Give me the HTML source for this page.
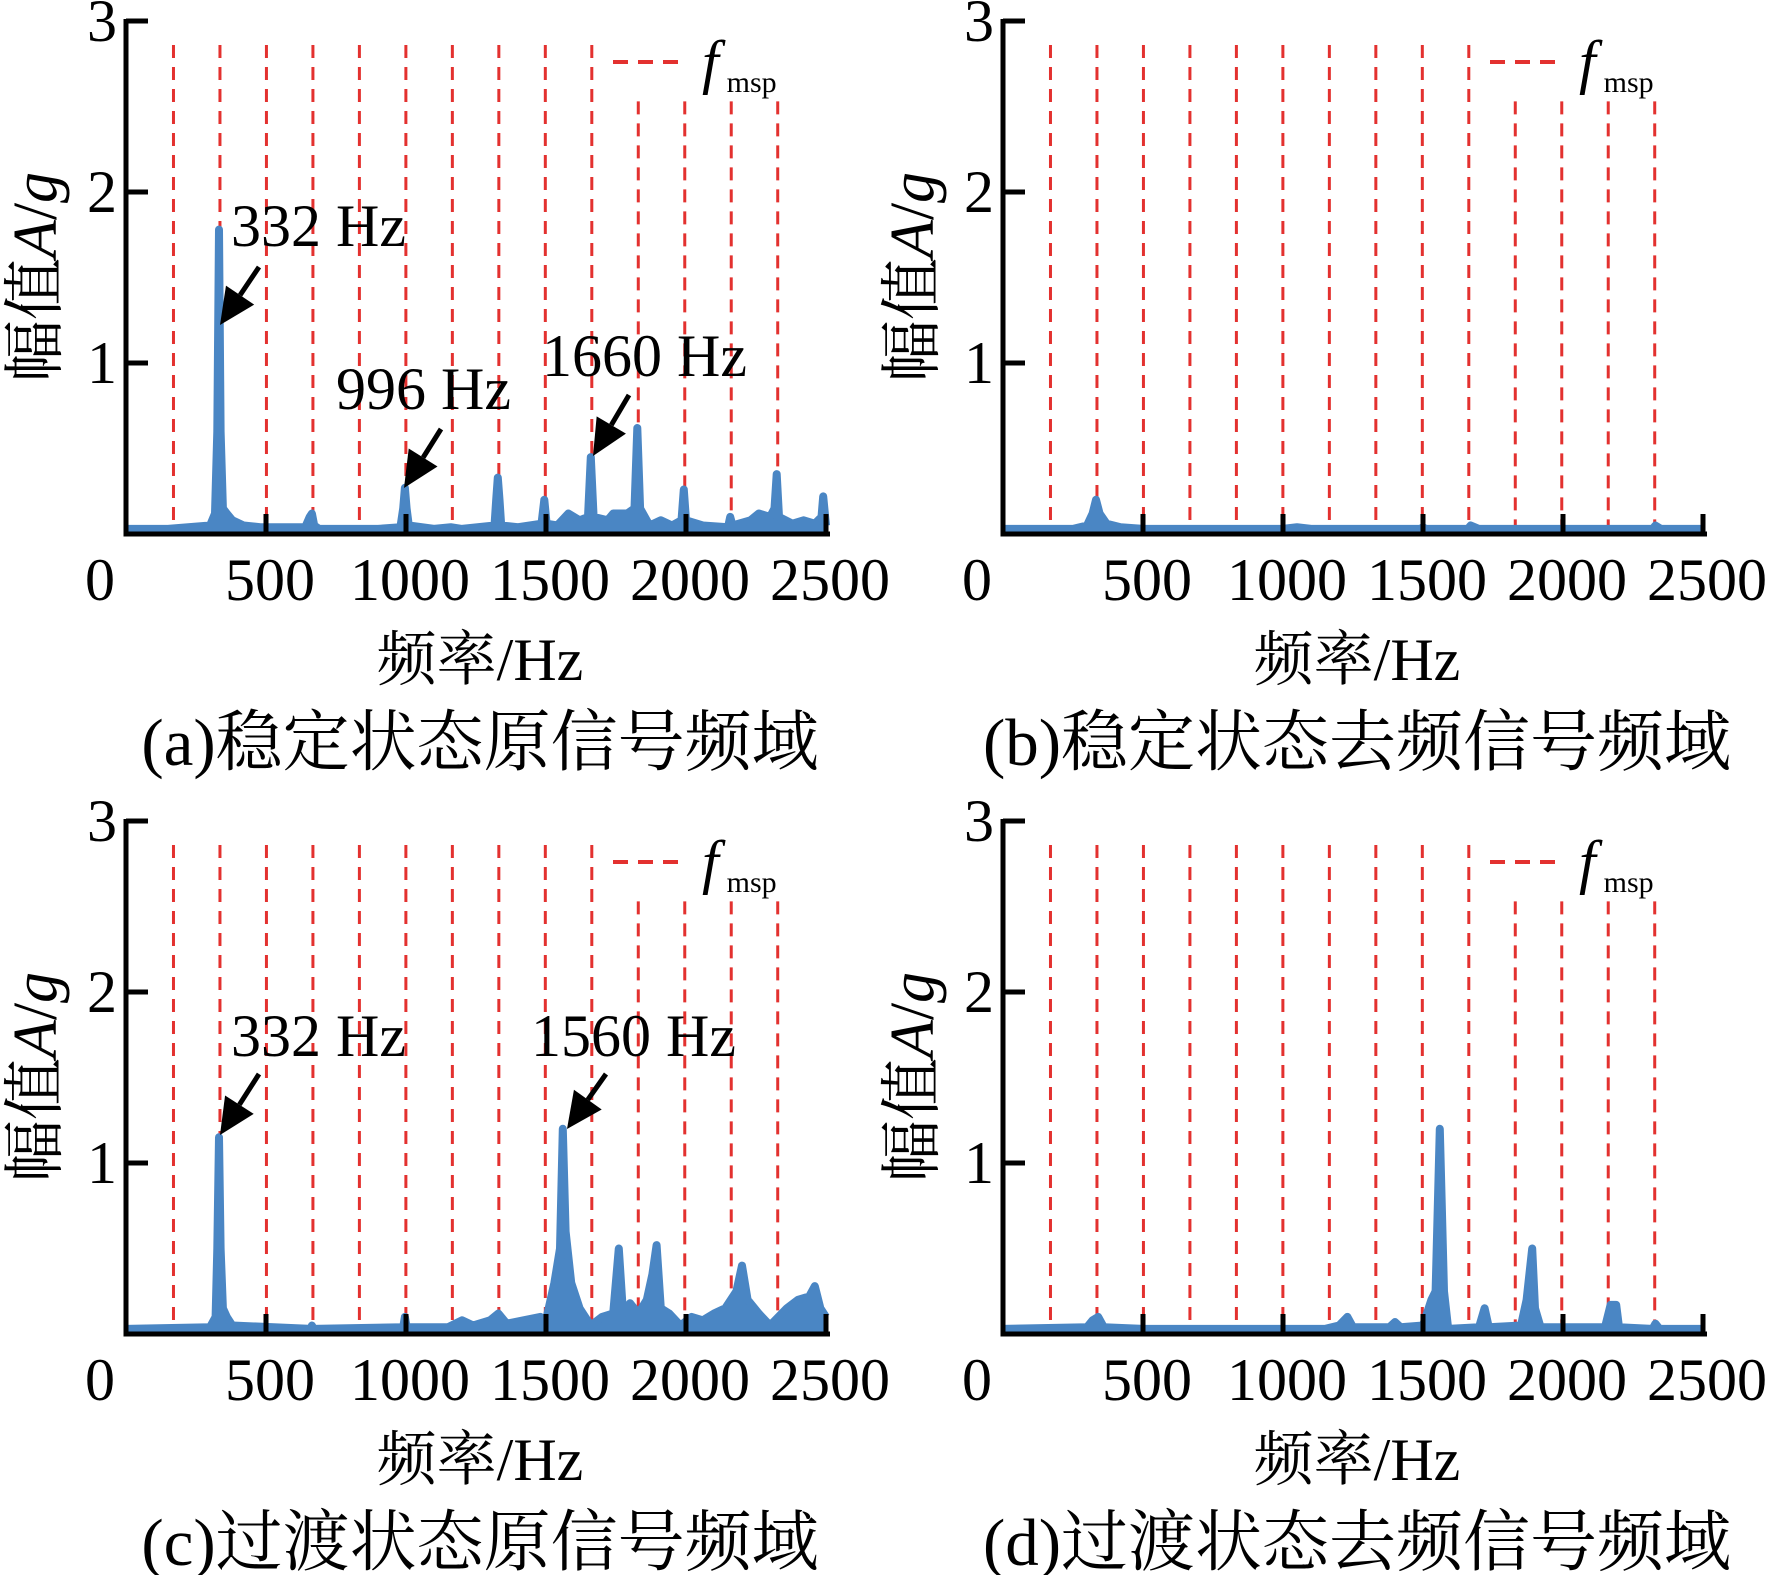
<!DOCTYPE html>
<html><head><meta charset="utf-8"><style>
html,body{margin:0;padding:0;background:#fff;}
svg{display:block;}
.num{font-family:"Liberation Serif",serif;font-size:60px;fill:#000;}
.cjk{font-family:"Liberation Serif","Noto Serif CJK SC",serif;fill:#000;}
</style></head><body>
<svg id="fig" width="1770" height="1575" viewBox="0 0 1770 1575" xmlns="http://www.w3.org/2000/svg"></svg>
<script>
// ---- data ----
const xTicks = [0, 500, 1000, 1500, 2000, 2500];
const yTicks = [1, 2, 3];
const fmsp = [166, 332, 498, 664, 830, 996, 1162, 1328, 1494, 1660, 1826, 1992, 2158, 2324];
const fmspTall = [3, 3, 3, 3, 3, 3, 3, 3, 3, 3, 2.67, 2.67, 2.67, 2.67];

const aFreq = [0,150,300,318,326,332,338,346,360,380,420,480,640,656,664,672,690,900,980,990,996,1002,1010,1100,1160,1200,1316,1322,1328,1334,1340,1400,1484,1494,1502,1540,1580,1620,1650,1660,1670,1720,1740,1790,1816,1826,1836,1870,1910,1950,1984,1992,2000,2060,2150,2158,2166,2230,2260,2300,2316,2324,2332,2380,2420,2460,2484,2490,2500];
const aAmp  = [0.03,0.03,0.05,0.12,0.6,1.78,0.6,0.15,0.12,0.08,0.05,0.04,0.04,0.1,0.12,0.05,0.03,0.03,0.04,0.15,0.27,0.15,0.05,0.03,0.04,0.03,0.05,0.2,0.33,0.2,0.05,0.04,0.06,0.2,0.06,0.05,0.12,0.08,0.1,0.45,0.1,0.08,0.12,0.12,0.15,0.62,0.15,0.05,0.08,0.05,0.08,0.26,0.08,0.05,0.04,0.1,0.05,0.08,0.12,0.1,0.15,0.35,0.1,0.06,0.08,0.06,0.1,0.22,0.05];

const bFreq = [0,250,300,320,332,345,370,420,500,1000,1050,1100,1490,1500,1510,1660,1670,1700,2320,2330,2350,2500];
const bAmp  = [0.03,0.03,0.05,0.12,0.2,0.12,0.06,0.04,0.03,0.03,0.04,0.03,0.03,0.04,0.03,0.03,0.05,0.03,0.03,0.05,0.03,0.03];

const cFreq = [0,300,320,326,332,338,346,360,380,660,664,670,990,996,1002,1150,1200,1240,1300,1330,1360,1420,1480,1500,1530,1550,1560,1570,1590,1620,1660,1700,1740,1760,1775,1800,1830,1860,1880,1895,1910,1940,1980,2020,2060,2100,2140,2180,2200,2220,2260,2300,2360,2400,2440,2460,2480,2500];
const cAmp  = [0.03,0.04,0.1,0.5,1.15,0.5,0.15,0.1,0.05,0.03,0.05,0.03,0.04,0.1,0.04,0.04,0.08,0.05,0.08,0.12,0.06,0.08,0.1,0.08,0.3,0.5,1.2,0.6,0.3,0.15,0.05,0.1,0.12,0.5,0.12,0.18,0.12,0.2,0.35,0.52,0.15,0.12,0.05,0.1,0.08,0.12,0.15,0.25,0.4,0.2,0.12,0.05,0.15,0.2,0.22,0.28,0.15,0.1];

const dFreq = [0,300,320,340,360,500,1150,1200,1230,1250,1380,1400,1420,1500,1530,1545,1560,1575,1590,1700,1720,1735,1850,1870,1890,1900,1920,2150,2170,2190,2200,2320,2330,2345,2500];
const dAmp  = [0.03,0.04,0.08,0.1,0.04,0.03,0.03,0.05,0.1,0.04,0.04,0.07,0.04,0.05,0.2,0.25,1.2,0.25,0.03,0.04,0.15,0.04,0.05,0.2,0.5,0.15,0.04,0.04,0.17,0.17,0.04,0.03,0.06,0.03,0.03];

const captions = ["(a)稳定状态原信号频域","(b)稳定状态去频信号频域","(c)过渡状态原信号频域","(d)过渡状态去频信号频域"];

// ---- drawing ----
const NS = "http://www.w3.org/2000/svg";
const svg = document.getElementById('fig');
function mk(tag, attrs, parent) {
  const e = document.createElementNS(NS, tag);
  for (const k in attrs) e.setAttribute(k, attrs[k]);
  (parent || svg).appendChild(e);
  return e;
}
function panel(ox, oy, freq, amp, caption, annots, id) {
  const g = mk('g', {});
  
  
  const X = f => ox + 126 + f * 0.28;
  const Y = v => oy + 534 - v * 171;
  fmsp.forEach((f, i) => {
    const l = mk('line', {x1: X(f)+1, x2: X(f)+1, y1: Y(fmspTall[i]) + 24, y2: Y(0), stroke: '#e3312f', 'stroke-width': 3, 'stroke-dasharray': '13 9'}, g);
    
    
  });
  let d = '';
  freq.forEach((f, i) => { d += (i ? 'L' : 'M') + X(f).toFixed(1) + ' ' + Y(amp[i]).toFixed(1); });
  const fill = mk('path', {d: d + 'L' + X(freq[freq.length-1]) + ' ' + Y(0) + 'L' + X(freq[0]) + ' ' + Y(0) + 'Z', fill: '#4a86c4', stroke: 'none'}, g);
  
  
  const line = mk('path', {d: d, fill: 'none', stroke: '#4a86c4', 'stroke-width': 8, 'stroke-linejoin': 'round'}, g);
  
  
  const ax = mk('path', {d: `M${X(0)} ${Y(3)-2}V${Y(0)}H${X(2500)+4}`, fill: 'none', stroke: '#000', 'stroke-width': 5}, g);
  
  
  yTicks.forEach(v => {
    const t = mk('line', {x1: X(0), x2: X(0) + 22, y1: Y(v), y2: Y(v), stroke: '#000', 'stroke-width': 5}, g);
    
    
    const lb = mk('text', {x: ox + 102, y: Y(v) + 20, 'text-anchor': 'middle', class: 'num'}, g);
    lb.textContent = v;
    
    
  });
  xTicks.forEach(v => {
    if (v > 0) {
      const t = mk('line', {x1: X(v), x2: X(v), y1: Y(0), y2: Y(0) - 20, stroke: '#000', 'stroke-width': 5}, g);
      
      
    }
    const lb = mk('text', {x: v === 0 ? ox + 100 : X(v) + 4, y: oy + 600, 'text-anchor': 'middle', class: 'num'}, g);
    lb.textContent = v;
    
    
  });
  const ld = mk('line', {x1: ox + 613, x2: ox + 678, y1: oy + 62, y2: oy + 62, stroke: '#e3312f', 'stroke-width': 4, 'stroke-dasharray': '15 10'}, g);
  
  
  const lt = mk('text', {x: ox + 702, y: oy + 82, class: 'num', 'font-style': 'italic'}, g);
  
  
  lt.innerHTML = 'f<tspan font-style="normal" font-size="30" dx="8" dy="10">msp</tspan>';
  const xt = mk('text', {x: ox + 480, y: oy + 680, 'text-anchor': 'middle', class: 'cjk', 'font-size': 60}, g);
  xt.textContent = '频率/Hz';
  
  
  const yt = mk('text', {x: 0, y: 0, 'text-anchor': 'middle', class: 'cjk', 'font-size': 62, transform: `translate(${ox + 56},${oy + 277}) rotate(-90)`}, g);
  yt.innerHTML = '幅值<tspan font-style="italic">A</tspan>/<tspan font-style="italic">g</tspan>';
  
  
  const cp = mk('text', {x: ox + 480, y: oy + 765, 'text-anchor': 'middle', class: 'cjk', 'font-size': 67}, g);
  cp.textContent = caption;
  
  
  annots.forEach(a => {
    const t = mk('text', {x: ox + a.tx, y: oy + a.ty, class: 'num'}, g);
    t.textContent = a.label;
    
    
    const x1 = ox + a.ax1, y1 = oy + a.ay1, x2 = ox + a.ax2, y2 = oy + a.ay2;
    const dx = x2 - x1, dy = y2 - y1, L = Math.hypot(dx, dy), ux = dx / L, uy = dy / L;
    const hb = 36, hw = 17;
    const bx = x2 - ux * hb, by = y2 - uy * hb;
    const ar = mk('g', {}, g);
    
    
    mk('line', {x1: x1, y1: y1, x2: bx, y2: by, stroke: '#000', 'stroke-width': 5}, ar);
    mk('polygon', {points: `${x2},${y2} ${bx - uy * hw},${by + ux * hw} ${bx + uy * hw},${by - ux * hw}`, fill: '#000'}, ar);
  });
}
panel(0, 0, aFreq, aAmp, captions[0], [
  {label: '332 Hz', tx: 231, ty: 246, ax1: 259, ay1: 267, ax2: 220, ay2: 325},
  {label: '996 Hz', tx: 336, ty: 409, ax1: 441, ay1: 429, ax2: 404, ay2: 488},
  {label: '1660 Hz', tx: 542, ty: 376, ax1: 629, ay1: 395, ax2: 593, ay2: 456}
], 'a');
panel(877, 0, bFreq, bAmp, captions[1], [], 'b');
panel(0, 800, cFreq, cAmp, captions[2], [
  {label: '332 Hz', tx: 231, ty: 256, ax1: 259, ay1: 274, ax2: 220, ay2: 335},
  {label: '1560 Hz', tx: 531, ty: 256, ax1: 606, ay1: 274, ax2: 567, ay2: 329}
], 'c');
panel(877, 800, dFreq, dAmp, captions[3], [], 'd');
</script>
</body></html>
